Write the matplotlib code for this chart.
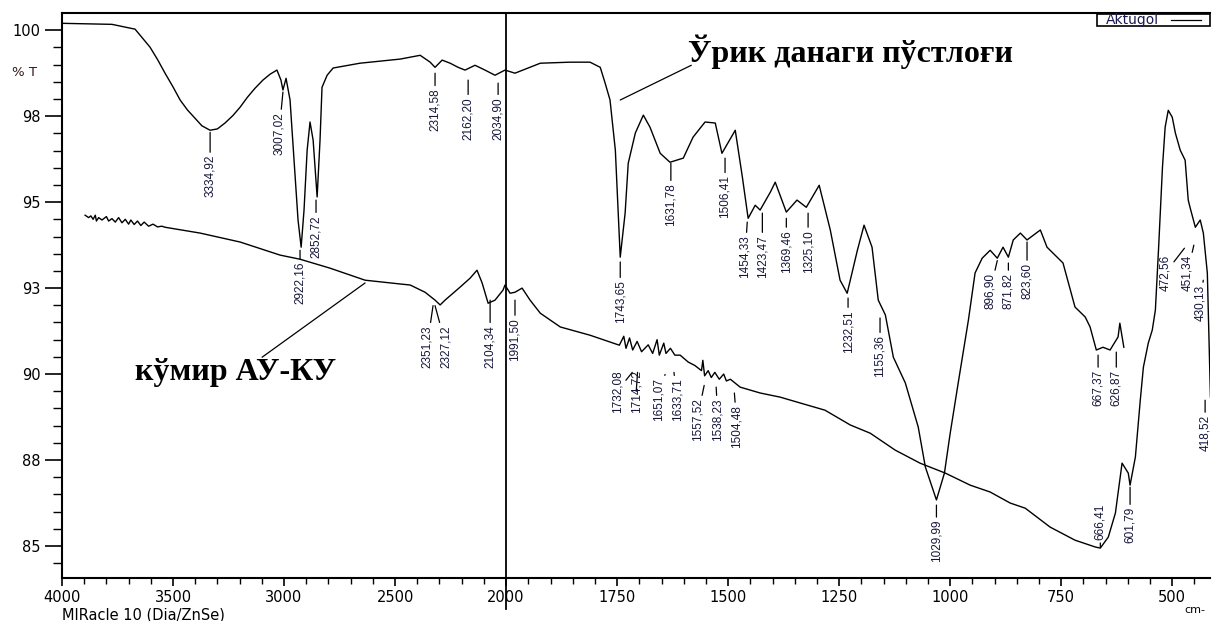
import numpy as np
import matplotlib
matplotlib.use('Agg')
import matplotlib.pyplot as plt
from matplotlib.ticker import FixedLocator, FixedFormatter

# --- Spectrum data (wavenumber cm-1, %T) ---
# Top spectrum: Ўрик данаги пўстлоғи
top_wn = [4000, 3775, 3671, 3604, 3570, 3536, 3500, 3468, 3435, 3401, 3370, 3333, 3300,
          3266, 3230, 3198, 3165, 3131, 3095, 3063, 3032,
          3014, 3005, 2991, 2973, 2955, 2937, 2923, 2910, 2896, 2883, 2869, 2851, 2838,
          2829, 2806, 2779, 2658, 2477, 2387, 2342, 2320, 2288, 2252, 2216, 2185, 2140,
          2095, 2050, 2005, 1980, 1923, 1856, 1811, 1788, 1777, 1766, 1754, 1743, 1732,
          1725, 1709, 1691, 1676, 1653, 1631, 1601, 1579, 1552, 1529, 1514, 1484, 1468,
          1455, 1439, 1428, 1405, 1394, 1369, 1345, 1324, 1295, 1270, 1248, 1232, 1209,
          1194, 1176, 1162, 1146, 1128, 1101, 1072, 1056, 1031, 1013, 1000, 982, 959,
          944, 928, 910, 894, 881, 869, 858, 842, 827, 797, 782, 746, 719, 696, 685,
          671, 656, 640, 622, 618, 609]
top_t = [100.20, 100.17, 100.03, 99.51, 99.15, 98.75, 98.35, 97.97, 97.68, 97.44, 97.22,
         97.09, 97.13, 97.30, 97.52, 97.76, 98.05, 98.31, 98.55,
         98.72, 98.84, 98.55, 98.26, 98.60, 97.97, 96.22, 94.48, 93.69, 94.77, 96.51,
         97.33, 96.80, 95.15, 96.80, 98.34, 98.69, 98.90, 99.04, 99.16, 99.27, 99.07,
         98.92, 99.13, 99.04, 98.92, 98.84, 98.98, 98.84, 98.69, 98.84, 98.75, 99.04,
         99.07, 99.07, 98.92, 98.46, 97.97, 96.51, 93.40, 94.68, 96.13, 97.01, 97.53,
         97.18, 96.42, 96.16, 96.28, 96.89, 97.33, 97.30, 96.42, 97.09, 95.73, 94.53,
         94.91, 94.77, 95.29, 95.58, 94.71, 95.06, 94.85, 95.49, 94.19, 92.73, 92.35,
         93.60, 94.33, 93.69, 92.15, 91.72, 90.49, 89.74, 88.46, 87.30, 86.34, 87.12,
         88.28, 89.74, 91.57, 92.94, 93.37, 93.60, 93.37, 93.69, 93.40, 93.90, 94.10,
         93.90, 94.19, 93.69, 93.23, 91.95, 91.66, 91.37, 90.70, 90.78, 90.70, 91.08,
         91.48, 90.78]

# Bottom spectrum: кўмир АУ-КУ
bot_wn = [3896, 3880, 3870, 3860, 3850, 3845, 3835, 3820, 3800, 3790, 3775, 3760, 3745,
          3730, 3715, 3700, 3690, 3675, 3660, 3645, 3630, 3610, 3590, 3570, 3550, 3536,
          3378, 3198, 3018, 2928, 2793, 2635, 2477, 2432, 2365, 2320, 2297, 2275, 2207,
          2162, 2131, 2108, 2081, 2050, 2014, 2005, 1991, 1980, 1964, 1946, 1923, 1878,
          1811, 1745, 1735, 1730, 1722, 1715, 1705, 1695, 1680, 1670, 1660, 1655, 1645,
          1640, 1630, 1620, 1608, 1590, 1575, 1560, 1557, 1553, 1545, 1538, 1530, 1520,
          1510, 1504, 1495, 1473, 1428, 1383, 1338, 1282, 1225, 1180, 1124, 1068, 1011,
          955, 910, 865, 831, 775, 719, 673, 662, 644, 628, 613, 599, 595, 583, 572,
          565, 554, 545, 538, 531, 522, 516, 509, 500, 493, 482, 471, 464, 460, 448,
          437, 430, 421, 414]
bot_t = [94.62, 94.55, 94.60, 94.50, 94.62, 94.45, 94.55, 94.48, 94.58, 94.45, 94.52,
         94.42, 94.55, 94.40, 94.50, 94.36, 94.48, 94.35, 94.45, 94.32, 94.42, 94.30,
         94.36, 94.28, 94.30, 94.27, 94.10, 93.84, 93.46, 93.34, 93.08, 92.73, 92.62,
         92.59, 92.38, 92.15, 92.01, 92.15, 92.53, 92.79, 93.02, 92.65, 92.06, 92.15,
         92.44, 92.59, 92.35, 92.38, 92.50, 92.15, 91.77, 91.37, 91.13, 90.84, 91.10,
         90.75, 91.05, 90.70, 90.95, 90.65, 90.85, 90.60, 91.00, 90.55, 90.90, 90.60,
         90.75, 90.55, 90.55, 90.35, 90.25, 90.10, 90.40, 89.95, 90.10, 89.90, 90.05,
         89.85, 90.00, 89.80, 89.85, 89.62, 89.45, 89.33, 89.16, 88.95, 88.52, 88.28,
         87.79, 87.41, 87.12, 86.77, 86.57, 86.25, 86.10, 85.55, 85.17, 84.97, 84.94,
         85.26, 85.96, 87.41, 87.12, 86.77, 87.59, 89.24, 90.20, 90.90, 91.28, 91.86,
         93.60, 96.02, 97.18, 97.67, 97.47, 97.01, 96.51, 96.22, 95.06, 94.85, 94.27,
         94.48, 94.10, 92.94, 89.33]

# Peak labels: text, leader tip (wn, %T), label position (wn, %T)
peak_text = ['3334,92', '3007,02', '2922,16', '2852,72', '2314,58', '2162,20', '2034,90',
             '1743,65', '1631,78', '1506,41', '1454,33', '1423,47', '1369,46', '1325,10',
             '1232,51', '1155,36', '1029,99', '896,90', '871,82', '823,60', '667,37',
             '626,87', '472,56', '451,34', '430,13', '418,52',
             '2351,23', '2327,12', '2104,34', '1991,50', '1732,08', '1714,72', '1651,07',
             '1633,71', '1557,52', '1538,23', '1504,48', '666,41', '601,79']
peak_wn = [3333, 3005, 2928, 2856, 2320, 2171, 2036, 1743, 1629, 1507, 1457, 1423, 1369,
           1320, 1230, 1158, 1031, 894, 869, 827, 667, 626, 472.56, 451.34, 430.13, 426,
           2329, 2320, 2072, 1980, 1716, 1704, 1642, 1622, 1554, 1527, 1486, 662, 595]
tip_t = [97.03, 98.20, 93.60, 95.06, 98.75, 98.55, 98.46, 93.26, 96.13, 96.28, 94.42,
         94.68, 94.53, 94.68, 92.21, 91.63, 86.19, 93.30, 93.23, 93.84, 90.55, 90.64,
         93.66, 93.75, 92.73, 89.24,
         91.99, 91.99, 92.15, 92.15, 90.05, 90.05, 89.99, 90.05, 89.67, 89.62, 89.45,
         84.97, 86.71]
lab_wn = [3333, 3023, 2928, 2856, 2320, 2171, 2036, 1743, 1629, 1507, 1462, 1423, 1369,
          1320, 1230, 1158, 1031, 910, 869, 827, 667, 626, 516, 466, 437, 426,
          2356, 2270, 2072, 1980, 1750, 1707, 1656, 1615, 1570, 1523, 1480, 662, 595]
lab_t = [96.37, 97.62, 93.26, 94.62, 98.31, 98.05, 98.05, 92.73, 95.55, 95.78, 94.04,
         94.04, 94.19, 94.19, 91.86, 91.13, 85.76, 92.94, 92.94, 93.23, 90.12, 90.12,
         93.46, 93.46, 92.59, 88.81,
         91.42, 91.42, 91.42, 91.63, 90.12, 90.12, 89.88, 89.88, 89.30, 89.30, 89.10,
         85.17, 86.13]
lab_above = [False] * 37 + [True, False]

xticks = [4000, 3500, 3000, 2500, 2000, 1750, 1500, 1250, 1000, 750, 500]
yticks = [85, 87.5, 90, 92.5, 95, 97.5, 100]
ytick_labels = ['85', '88', '90', '93', '95', '98', '100']


# FTIR display: region below 2000 cm-1 is stretched twice
def forward(x):
    x = np.asarray(x, dtype=float)
    return np.where(x > 2000, 2000 + (x - 2000) * 0.5, x)


def inverse(y):
    y = np.asarray(y, dtype=float)
    return np.where(y > 2000, 2000 + (y - 2000) * 2.0, y)


fig = plt.figure(figsize=(12.12, 6.21), dpi=100)
ax = fig.add_axes([62 / 1212, 1 - 578 / 621, 1148 / 1212, 565 / 621])
ax.set_xscale('function', functions=(forward, inverse))

ax.plot(top_wn, top_t, color='black', lw=1.0)
ax.plot(bot_wn, bot_t, color='black', lw=1.0)

ax.set_xlim(4000, 415)
ax.set_ylim(84.07, 100.5)

ax.xaxis.set_major_locator(FixedLocator(xticks))
ax.xaxis.set_major_formatter(FixedFormatter([str(v) for v in xticks]))
minor_x = [v for v in range(4000, 2000, -100) if v not in xticks] + \
          [v for v in range(2000, 400, -50) if v not in xticks]
ax.xaxis.set_minor_locator(FixedLocator(minor_x))
ax.yaxis.set_major_locator(FixedLocator(yticks))
ax.yaxis.set_major_formatter(FixedFormatter(ytick_labels))
ax.yaxis.set_minor_locator(FixedLocator(np.arange(84.5, 100.5, 0.5)))

ax.tick_params(axis='y', which='major', length=12, width=1.2, pad=3.5, labelsize=10.5)
ax.tick_params(axis='y', which='minor', length=6.5, width=1.0)
ax.tick_params(axis='x', which='major', length=6, width=1.2, pad=3, labelsize=10.5)
ax.tick_params(axis='x', which='minor', length=4.5, width=1.0)
for side in ['left', 'bottom', 'top']:
    ax.spines[side].set_linewidth(1.5)
ax.spines['right'].set_visible(False)

# scale break line at 2000
ax.axvline(2000, ymin=-0.055, ymax=1, color='black', lw=1.3, clip_on=False)

# peak labels with leaders
lab_font = ['Liberation Sans', 'DejaVu Sans']
for txt, pw, pt, lw_, lt, above in zip(peak_text, peak_wn, tip_t, lab_wn, lab_t, lab_above):
    ax.annotate(txt, xy=(pw, pt), xytext=(lw_, lt), rotation=90,
                ha='center', va='bottom' if above else 'top',
                fontsize=8.5, family=lab_font, color='#15153a',
                arrowprops=dict(arrowstyle='-', lw=0.9, color='black',
                                shrinkA=0, shrinkB=0),
                annotation_clip=False)

# sample names
ax.text(1590, 99.36, 'Ўрик данаги пўстлоғи', fontsize=23, fontweight='bold',
        family='Liberation Serif', ha='left', va='center')
ax.annotate('', xy=(1743, 97.97), xytext=(1583, 98.98),
            arrowprops=dict(arrowstyle='-', lw=0.9, color='black', shrinkA=0, shrinkB=0))
ax.text(3671, 90.06, 'кўмир АУ-КУ', fontsize=23, fontweight='bold',
        family='Liberation Serif', ha='left', va='center')
ax.annotate('', xy=(2635, 92.65), xytext=(3099, 90.49),
            arrowprops=dict(arrowstyle='-', lw=0.9, color='black', shrinkA=0, shrinkB=0))

# legend box
ax.add_patch(plt.Rectangle((0.9016, 0.977), 0.0984, 0.0215, transform=ax.transAxes,
                           fill=False, lw=1.2, clip_on=False))
ax.text(0.909, 0.9875, 'Aktugol', transform=ax.transAxes, fontsize=10,
        color='#1a1a50', va='center', ha='left')
ax.plot([0.966, 0.992], [0.9875, 0.9875], transform=ax.transAxes, color='black', lw=0.9)

fig.text(12 / 1212, 1 - 72 / 621, '% T', fontsize=9.5, va='center', ha='left', color='#301818')
fig.text(62 / 1212, 1 - 615 / 621, 'MIRacle 10 (Dia/ZnSe)', fontsize=10.5, va='center', ha='left')
fig.text(1184 / 1212, 1 - 610 / 621, 'cm-', fontsize=8, va='center', ha='left')

fig.savefig('out.png', dpi=100)
